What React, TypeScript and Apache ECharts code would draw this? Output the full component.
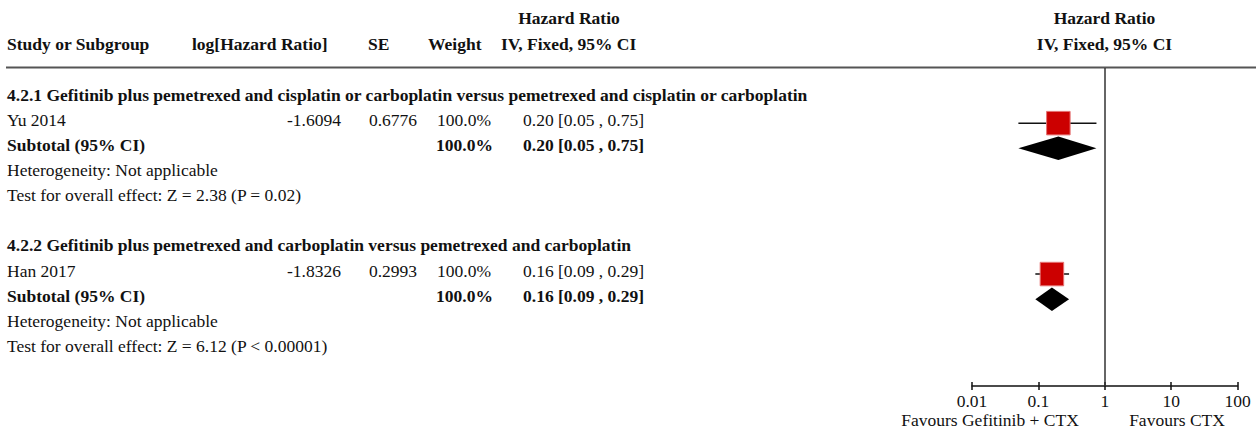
import React, { useEffect, useRef } from "react";
import * as echarts from "echarts";

const groupTitles = [
  "4.2.1 Gefitinib plus pemetrexed and cisplatin or carboplatin versus pemetrexed and cisplatin or carboplatin",
  "4.2.2 Gefitinib plus pemetrexed and carboplatin versus pemetrexed and carboplatin",
];
const studyNames = ["Yu 2014", "Han 2017"];
const logHR = ["-1.6094", "-1.8326"];
const seValues = ["0.6776", "0.2993"];
const studyWeights = [100.0, 100.0];
const studyHR = [0.2, 0.16];
const studyLow = [0.05, 0.09];
const studyHigh = [0.75, 0.29];
const subtotalWeights = [100.0, 100.0];
const subtotalHR = [0.2, 0.16];
const subtotalLow = [0.05, 0.09];
const subtotalHigh = [0.75, 0.29];
const heterogeneity = ["Heterogeneity: Not applicable", "Heterogeneity: Not applicable"];
const overallEffect = [
  "Test for overall effect: Z = 2.38 (P = 0.02)",
  "Test for overall effect: Z = 6.12 (P < 0.00001)",
];
const xTicks = [0.01, 0.1, 1, 10, 100];
const favourLabels = ["Favours Gefitinib + CTX", "Favours CTX"];

const FONT = '"Liberation Serif", "Times New Roman", serif';
const FS = 17.5;
const ROW0 = 98;
const ROWH = 25.15;
const GRID_TOP = 68;
const AXIS_Y = 386;
const TEXT_DY = -3.5;

const rowPx = (r: number) => ROW0 + ROWH * r;
const fmtCI = (h: number, l: number, u: number) =>
  `${h.toFixed(2)} [${l.toFixed(2)} , ${u.toFixed(2)}]`;
const fmtW = (w: number) => `${w.toFixed(1)}%`;

function txt(text: string, x: number, y: number, bold: boolean, align = "left") {
  return {
    type: "text",
    x,
    y,
    silent: true,
    style: {
      text,
      fill: "#111",
      fontFamily: FONT,
      fontSize: FS,
      fontWeight: bold ? "bold" : "normal",
      align,
      verticalAlign: "middle",
    },
  };
}

export default function App() {
  const ref = useRef<HTMLDivElement>(null);
  useEffect(() => {
    if (!ref.current) return;
    const chart = echarts.init(ref.current, null, { renderer: "svg" });

    const graphics: any[] = [];
    graphics.push(txt("Hazard Ratio", 569, 18, true, "center"));
    graphics.push(txt("Study or Subgroup", 7, 44, true));
    graphics.push(txt("log[Hazard Ratio]", 192, 44, true));
    graphics.push(txt("SE", 368, 44, true));
    graphics.push(txt("Weight", 428, 44, true));
    graphics.push(txt("IV, Fixed, 95% CI", 501, 44, true));
    graphics.push(txt("Hazard Ratio", 1104.5, 18, true, "center"));
    graphics.push(txt("IV, Fixed, 95% CI", 1104.5, 44, true, "center"));
    graphics.push({
      type: "line",
      silent: true,
      shape: { x1: 6, y1: 67.5, x2: 1256, y2: 67.5 },
      style: { stroke: "#555", lineWidth: 2 },
    });

    const markData: any[] = [];
    groupTitles.forEach((title, g) => {
      const base = 6 * g;
      graphics.push(txt(title, 7, rowPx(base) + TEXT_DY, true));
      const ys = rowPx(base + 1) + TEXT_DY;
      graphics.push(txt(studyNames[g], 7, ys, false));
      graphics.push(txt(logHR[g], 341, ys, false, "right"));
      graphics.push(txt(seValues[g], 417, ys, false, "right"));
      graphics.push(txt(fmtW(studyWeights[g]), 437, ys, false));
      graphics.push(txt(fmtCI(studyHR[g], studyLow[g], studyHigh[g]), 523, ys, false));
      const yt = rowPx(base + 2) + TEXT_DY;
      graphics.push(txt("Subtotal (95% CI)", 7, yt, true));
      graphics.push(txt(fmtW(subtotalWeights[g]), 436, yt, true));
      graphics.push(txt(fmtCI(subtotalHR[g], subtotalLow[g], subtotalHigh[g]), 523, yt, true));
      graphics.push(txt(heterogeneity[g], 7, rowPx(base + 3) + TEXT_DY, false));
      graphics.push(txt(overallEffect[g], 7, rowPx(base + 4) + TEXT_DY, false));

      markData.push([studyHR[g], studyLow[g], studyHigh[g], base + 1, 0, studyWeights[g]]);
      markData.push([subtotalHR[g], subtotalLow[g], subtotalHigh[g], base + 2, 1, subtotalWeights[g]]);
    });

    graphics.push(txt(favourLabels[0], 990, 420, false, "center"));
    graphics.push(txt(favourLabels[1], 1177, 420, false, "center"));

    const yMin = (GRID_TOP - ROW0) / ROWH;
    const yMax = (AXIS_Y - ROW0) / ROWH;

    const xBase = {
      type: "log",
      logBase: 10,
      min: xTicks[0],
      max: xTicks[xTicks.length - 1],
      position: "bottom",
      splitLine: { show: false },
    };

    chart.setOption({
      animation: false,
      backgroundColor: "#fff",
      grid: { left: 972, right: 18.5, top: GRID_TOP, bottom: 430 - AXIS_Y, containLabel: false },
      xAxis: [
        {
          ...xBase,
          axisLine: { show: true, onZero: false, lineStyle: { color: "#111", width: 1.5 } },
          axisTick: { show: true, length: 4, lineStyle: { color: "#111", width: 1.5 } },
          axisLabel: {
            show: true,
            color: "#111",
            fontFamily: FONT,
            fontSize: FS,
            margin: 6,
            formatter: (v: number) => String(xTicks.find((t) => Math.abs(t - v) / t < 1e-6) ?? v),
          },
        },
        {
          ...xBase,
          axisLine: { show: false, onZero: false },
          axisTick: { show: true, inside: true, length: 4, lineStyle: { color: "#111", width: 1.5 } },
          axisLabel: { show: false },
        },
      ],
      yAxis: {
        type: "value",
        inverse: true,
        min: yMin,
        max: yMax,
        show: false,
        splitLine: { show: false },
      },
      graphic: graphics,
      series: [
        {
          type: "custom",
          xAxisIndex: 0,
          yAxisIndex: 0,
          silent: true,
          data: markData,
          renderItem: (params: any, api: any) => {
            const hr = api.value(0);
            const lo = api.value(1);
            const hi = api.value(2);
            const row = api.value(3);
            const kind = api.value(4);
            const w = api.value(5);
            const c = api.coord([hr, row]);
            const l = api.coord([lo, row]);
            const h = api.coord([hi, row]);
            if (kind === 0) {
              const s = 23.5 * Math.sqrt(w / 100);
              return {
                type: "group",
                children: [
                  {
                    type: "line",
                    shape: { x1: l[0], y1: l[1], x2: h[0], y2: h[1] },
                    style: { stroke: "#111", lineWidth: 1.5 },
                  },
                  {
                    type: "rect",
                    shape: { x: c[0] - s / 2, y: c[1] - s / 2, width: s, height: s },
                    style: { fill: "#cc0000", stroke: "#e57373", lineWidth: 1 },
                  },
                ],
              };
            }
            const hh = 11.7;
            return {
              type: "polygon",
              shape: {
                points: [
                  [l[0], l[1]],
                  [c[0], c[1] - hh],
                  [h[0], h[1]],
                  [c[0], c[1] + hh],
                ],
              },
              style: { fill: "#000" },
            };
          },
          markLine: {
            silent: true,
            symbol: "none",
            label: { show: false },
            lineStyle: { color: "#333", width: 1.5, type: "solid" },
            data: [{ xAxis: 1 }],
          },
        },
      ],
    });
    return () => chart.dispose();
  }, []);
  return (
    <div
      ref={ref}
      style={{ position: "fixed", left: 0, top: 0, width: 1256, height: 430, background: "#fff" }}
    />
  );
}
